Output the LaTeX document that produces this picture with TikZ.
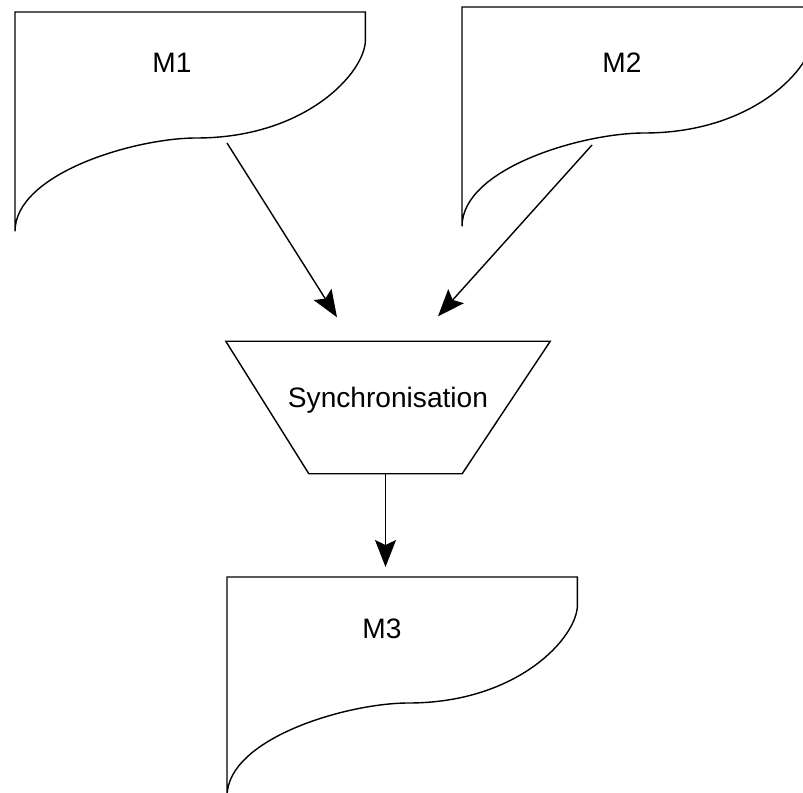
\documentclass[tikz,border=0pt]{standalone}
\usepackage{fontspec}
\setmainfont{Liberation Sans}
\usepackage{tikz}
\usetikzlibrary{arrows.meta,positioning,calc}

\tikzset{doc/.style={minimum width=#1, minimum height=4.36cm, inner sep=0pt, anchor=north west}}

\begin{document}
\begin{tikzpicture}[->,>={Stealth[length=0.54cm,width=0.42cm,inset=0.1cm]},line width=0.8pt,
     font=\fontsize{16}{19}\selectfont]
    \useasboundingbox (0,0) rectangle (16.06,-15.86);
    \node[doc=6.98cm] (m1) at (0.30, -0.24) {};
    \node[doc=7.0cm] (m2) at (9.24, -0.14) {};
    \node[doc=6.98cm] (m3) at (4.54, -11.54) {};
    \foreach \d in {m1, m2, m3}
      \draw[-] (\d.south west) -- (\d.north west) -- (\d.north east) -- ([yshift=-0.56cm]\d.north east)
        .. controls ([yshift=-1.2cm]\d.north east) and ([shift={(-1.18,-2.52)}]\d.north east) .. ([shift={(-3.38,-2.52)}]\d.north east)
        .. controls ([shift={(2.4,-2.52)}]\d.north west) and ([yshift=1.16cm]\d.south west) .. (\d.south west) -- cycle;
    \node (m1label) at ([shift={(3.14,-1.02)}]m1.north west) {M1};
    \node (m2label) at ([shift={(3.2,-1.12)}]m2.north west) {M2};
    \node (m3label) at ([shift={(3.1,-1.04)}]m3.north west) {M3};
    \node[minimum width=6.46cm, minimum height=2.62cm, inner sep=0pt, text depth=0.4cm] (sync) at (7.76, -8.15) {Synchronisation};
    \draw[-] (sync.north west) -- (sync.north east) -- ([xshift=-1.76cm]sync.south east) -- ([xshift=1.66cm]sync.south west) -- cycle;
    \coordinate (m1out) at ([shift={(4.24,-2.62)}]m1.north west);
    \coordinate (m2out) at ([shift={(2.6,-2.76)}]m2.north west);
    \path (m1out) edge ([shift={(-1.02,0.48)}]sync.north);
    \path (m2out) edge ([shift={(1.0,0.5)}]sync.north);
    \path ([xshift=-0.05cm]sync.south) edge[shorten >=0.2cm] ([xshift=-0.05cm]sync.south |- m3.north);
\end{tikzpicture}
\end{document}
